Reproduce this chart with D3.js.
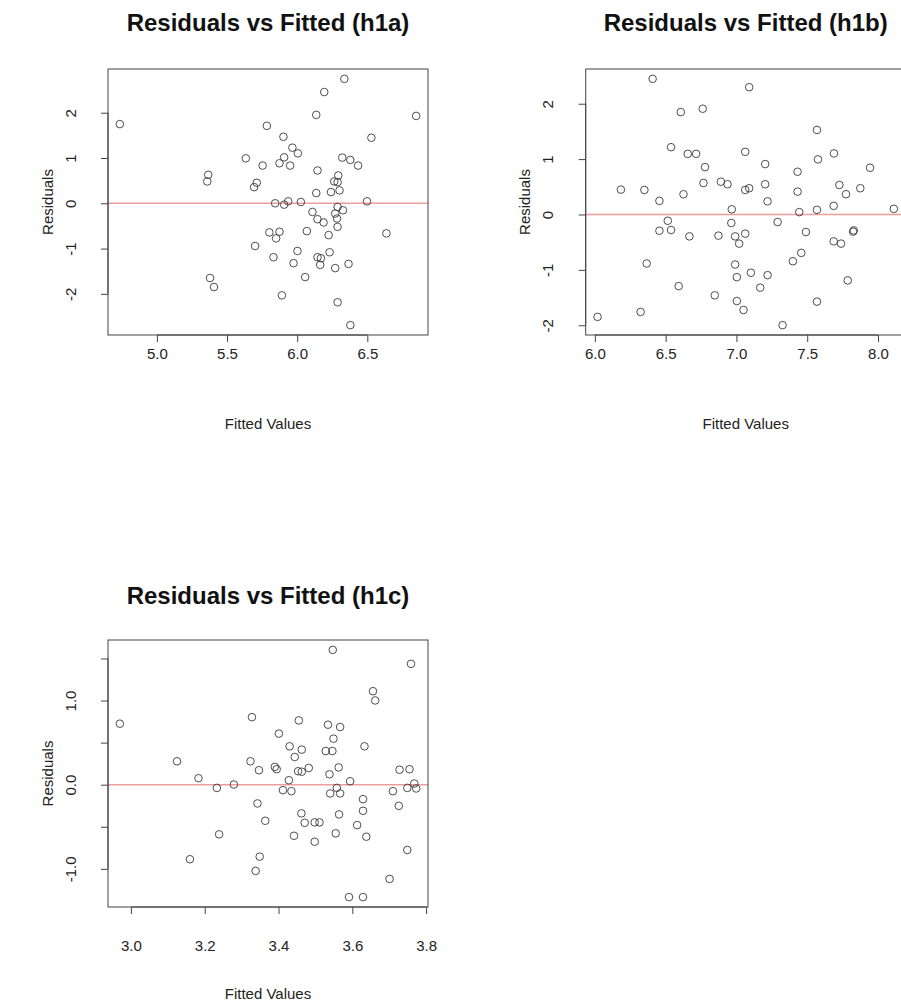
<!DOCTYPE html>
<html><head><meta charset="utf-8">
<script src="https://cdn.jsdelivr.net/npm/d3@7"></script>
<style>
body{margin:0;background:#fff;}
svg{display:block;font-family:"Liberation Sans",Arial,sans-serif;}
</style></head>
<body>
<svg id="chart" width="901" height="1006"></svg>
<script>
// ---- data: panel h1a ----
const h1aFitted = [4.736,5.784,5.634,5.754,5.366,5.359,5.712,5.693,6.336,6.193,6.136,6.848,5.902,6.529,5.966,6.005,5.874,5.907,5.950,6.321,6.379,6.434,6.145,6.293,6.264,6.288,6.302,6.241,6.136,5.843,5.907,5.936,6.026,6.498,6.109,6.288,6.326,6.271,6.145,6.188,6.284,6.288,5.802,5.874,5.850,6.069,6.224,6.636,6.002,5.831,5.974,6.145,6.169,6.164,6.231,6.271,6.366,6.057,5.891,6.288,6.379,5.700,5.379,5.407];
const h1aResid  = [1.748,1.711,0.993,0.833,0.629,0.482,0.454,0.357,2.748,2.456,1.952,1.930,1.469,1.447,1.228,1.103,0.884,1.015,0.833,1.009,0.958,0.833,0.724,0.614,0.482,0.467,0.285,0.248,0.226,0.000,-0.030,0.044,0.029,0.044,-0.191,-0.081,-0.154,-0.226,-0.351,-0.423,-0.336,-0.520,-0.643,-0.629,-0.774,-0.614,-0.702,-0.664,-1.053,-1.191,-1.322,-1.191,-1.213,-1.360,-1.081,-1.432,-1.338,-1.629,-2.033,-2.186,-2.691,-0.943,-1.651,-1.849];
const h1aXTicks = [5.0,5.5,6.0,6.5];
const h1aXLabels = ["5.0","5.5","6.0","6.5"];
const h1aYTicks = [-2,-1,0,1,2];
const h1aYLabels = ["-2","-1","0","1","2"];

// ---- data: panel h1b ----
const h1bFitted = [6.408,6.607,6.762,6.538,6.656,6.715,6.778,6.767,6.890,6.937,6.184,6.350,6.626,6.456,7.090,7.569,7.062,7.689,7.576,7.203,7.944,7.432,7.062,7.090,7.203,7.432,7.727,7.774,7.875,7.220,6.967,6.515,6.456,6.538,6.668,6.873,6.964,6.366,6.592,6.847,6.323,6.019,7.444,7.569,7.687,8.112,7.291,7.491,7.829,7.824,6.991,7.062,7.019,7.687,7.739,7.458,7.399,6.991,7.003,7.102,7.220,7.168,7.786,7.003,7.050,7.569,7.326];
const h1bResid  = [2.449,1.849,1.910,1.215,1.095,1.095,0.856,0.569,0.592,0.546,0.449,0.443,0.366,0.246,2.298,1.526,1.131,1.102,0.995,0.910,0.844,0.772,0.443,0.474,0.546,0.413,0.533,0.366,0.474,0.237,0.093,-0.113,-0.293,-0.280,-0.395,-0.382,-0.154,-0.885,-1.293,-1.460,-1.759,-1.849,0.043,0.084,0.156,0.102,-0.136,-0.316,-0.287,-0.310,-0.395,-0.346,-0.526,-0.485,-0.526,-0.693,-0.844,-0.903,-1.131,-1.052,-1.095,-1.321,-1.190,-1.562,-1.724,-1.573,-1.998];
const h1bXTicks = [6.0,6.5,7.0,7.5,8.0];
const h1bXLabels = ["6.0","6.5","7.0","7.5","8.0"];
const h1bYTicks = [-2,-1,0,1,2];
const h1bYLabels = ["-2","-1","0","1","2"];

// ---- data: panel h1c ----
const h1cFitted = [2.970,3.328,3.125,3.324,3.347,3.183,3.547,3.759,3.656,3.662,3.455,3.534,3.567,3.401,3.549,3.430,3.463,3.444,3.528,3.546,3.633,3.390,3.395,3.482,3.563,3.538,3.728,3.755,3.233,3.279,3.343,3.364,3.239,3.160,3.349,3.338,3.453,3.463,3.428,3.412,3.435,3.558,3.594,3.540,3.567,3.710,3.749,3.768,3.773,3.629,3.629,3.726,3.462,3.471,3.498,3.511,3.564,3.613,3.442,3.498,3.555,3.638,3.749,3.701,3.591,3.629];
const h1cResid  = [0.725,0.803,0.278,0.278,0.172,0.077,1.602,1.436,1.111,1.001,0.764,0.713,0.685,0.607,0.547,0.456,0.417,0.329,0.400,0.400,0.456,0.211,0.184,0.199,0.205,0.124,0.178,0.184,-0.038,0.002,-0.223,-0.429,-0.590,-0.886,-0.855,-1.025,0.160,0.154,0.053,-0.065,-0.077,-0.038,0.041,-0.104,-0.104,-0.077,-0.038,0.014,-0.045,-0.172,-0.310,-0.251,-0.341,-0.453,-0.448,-0.448,-0.353,-0.480,-0.607,-0.678,-0.578,-0.618,-0.776,-1.120,-1.336,-1.336];
const h1cXTicks = [3.0,3.2,3.4,3.6,3.8];
const h1cXLabels = ["3.0","3.2","3.4","3.6","3.8"];
const h1cYTicks = [-1.0,-0.5,0.0,0.5,1.0,1.5];
const h1cYLabels = ["-1.0","","0.0","","1.0",""];

const titles = ["Residuals vs Fitted (h1a)","Residuals vs Fitted (h1b)","Residuals vs Fitted (h1c)"];
const xTitle = "Fitted Values";
const yTitle = "Residuals";

// ---- drawing ----
const svg = d3.select("#chart");
const panels = [
  {x:h1aFitted,y:h1aResid,xt:h1aXTicks,xl:h1aXLabels,yt:h1aYTicks,yl:h1aYLabels,title:titles[0],
   left:108,top:69,w:320,h:266, titleY:22, xLabY:353, xTitleY:423},
  {x:h1bFitted,y:h1bResid,xt:h1bXTicks,xl:h1bXLabels,yt:h1bYTicks,yl:h1bYLabels,title:titles[1],
   left:585.7,top:69,w:320,h:266, titleY:22, xLabY:353, xTitleY:423},
  {x:h1cFitted,y:h1cResid,xt:h1cXTicks,xl:h1cXLabels,yt:h1cYTicks,yl:h1cYLabels,title:titles[2],
   left:108,top:640,w:320,h:267, titleY:595, xLabY:945, xTitleY:993}
];

function padded(arr){
  const lo=d3.min(arr), hi=d3.max(arr), p=(hi-lo)*0.04;
  return [lo-p, hi+p];
}

const axisColor="#444";
panels.forEach(P=>{
  const g = svg.append("g");
  const xs = d3.scaleLinear().domain(padded(P.x)).range([P.left, P.left+P.w]);
  const ys = d3.scaleLinear().domain(padded(P.y)).range([P.top+P.h, P.top]);

  // zero line
  g.append("line").attr("x1",P.left).attr("x2",P.left+P.w)
    .attr("y1",ys(0)).attr("y2",ys(0))
    .attr("stroke","#ee9c9c").attr("stroke-width",1.4);

  // points
  g.selectAll("circle").data(P.x.map((v,i)=>[v,P.y[i]])).enter().append("circle")
    .attr("cx",d=>xs(d[0])).attr("cy",d=>ys(d[1])).attr("r",3.8)
    .attr("fill","none").attr("stroke","#3a3a3a").attr("stroke-width",0.9);

  // box
  g.append("rect").attr("x",P.left).attr("y",P.top).attr("width",P.w).attr("height",P.h)
    .attr("fill","none").attr("stroke",axisColor).attr("stroke-width",1);

  // x axis
  const xa = d3.axisBottom(xs).tickValues(P.xt).tickSize(7).tickSizeOuter(0)
    .tickFormat((d,i)=>P.xl[i]);
  const gx = g.append("g").attr("transform",`translate(0,${P.top+P.h})`).call(xa);
  gx.select(".domain").attr("d",`M${xs(P.xt[0])},0H${xs(P.xt[P.xt.length-1])}`).attr("stroke",axisColor);
  gx.selectAll(".tick line").attr("stroke",axisColor);
  gx.selectAll(".tick text").attr("dy",null)
    .attr("y",P.xLabY-(P.top+P.h)).attr("dominant-baseline","central")
    .attr("font-size",15).attr("fill","#222").attr("font-family","Liberation Sans, Arial, sans-serif");

  // y axis
  const ya = d3.axisLeft(ys).tickValues(P.yt).tickSize(7).tickSizeOuter(0)
    .tickFormat((d,i)=>P.yl[i]);
  const gy = g.append("g").attr("transform",`translate(${P.left},0)`).call(ya);
  gy.select(".domain").attr("d",`M0,${ys(P.yt[0])}V${ys(P.yt[P.yt.length-1])}`).attr("stroke",axisColor);
  gy.selectAll(".tick line").attr("stroke",axisColor);
  gy.selectAll(".tick text").attr("x",null).attr("dy",null)
    .attr("transform","translate(-38,0) rotate(-90)")
    .attr("text-anchor","middle").attr("dominant-baseline","central")
    .attr("font-size",15).attr("fill","#222").attr("font-family","Liberation Sans, Arial, sans-serif");

  const cx = P.left+P.w/2;
  g.append("text").attr("x",cx).attr("y",P.titleY).attr("text-anchor","middle")
    .attr("dominant-baseline","central").attr("font-weight","bold").attr("font-size",24)
    .attr("fill","#111").text(P.title);
  g.append("text").attr("x",cx).attr("y",P.xTitleY).attr("text-anchor","middle")
    .attr("dominant-baseline","central").attr("font-size",15).attr("fill","#222").text(xTitle);
  g.append("text").attr("transform",`translate(${P.left-61},${P.top+P.h/2}) rotate(-90)`)
    .attr("text-anchor","middle").attr("dominant-baseline","central")
    .attr("font-size",15).attr("fill","#222").text(yTitle);
});
</script>
</body></html>
